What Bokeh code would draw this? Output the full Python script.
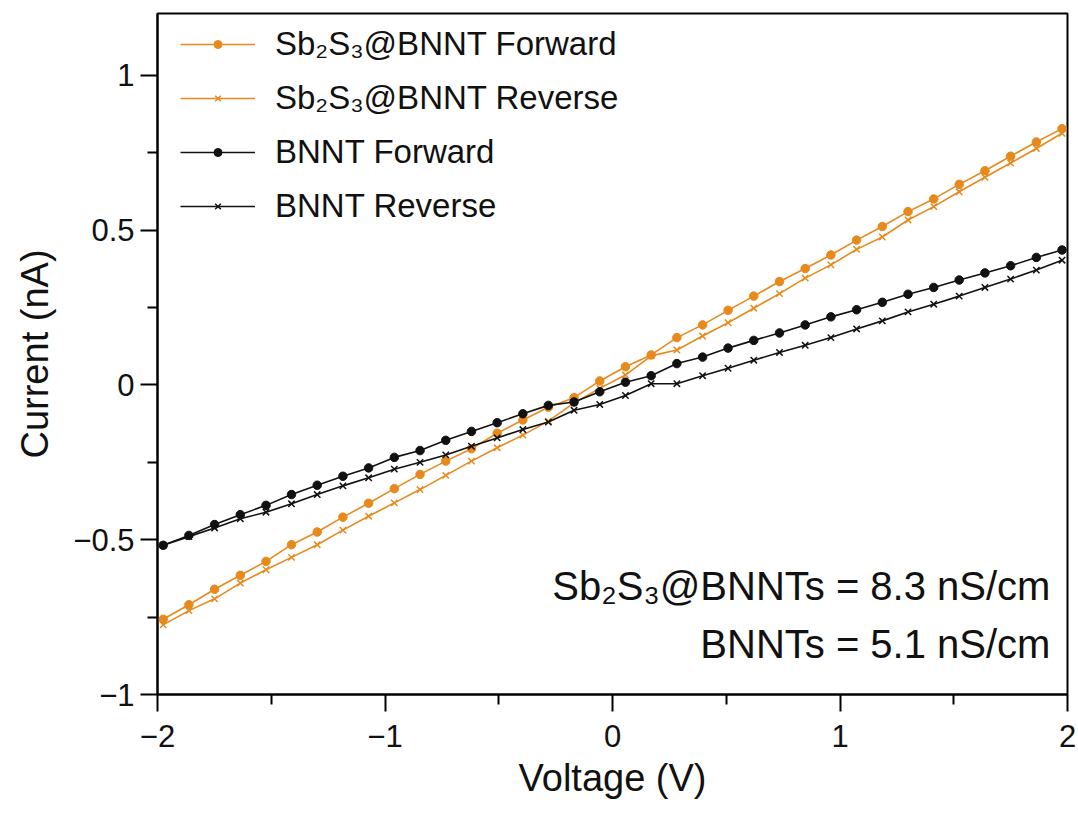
from bokeh.plotting import figure
from bokeh.models import ColumnDataSource, Legend, LegendItem, FixedTicker, Label
from bokeh.embed import file_html
from bokeh.resources import INLINE

# ---------------- data ----------------
voltage = [-1.975, -1.862, -1.749, -1.636, -1.523, -1.411, -1.298, -1.185, -1.072, -0.959,
           -0.846, -0.733, -0.620, -0.507, -0.394, -0.282, -0.169, -0.056, 0.057, 0.170,
           0.283, 0.396, 0.508, 0.621, 0.734, 0.847, 0.960, 1.073, 1.186, 1.299,
           1.412, 1.524, 1.637, 1.750, 1.863, 1.976]

sb_forward = [-0.757, -0.710, -0.660, -0.615, -0.570, -0.516, -0.475, -0.427, -0.382, -0.335,
              -0.289, -0.246, -0.206, -0.156, -0.113, -0.072, -0.041, 0.013, 0.059, 0.097,
              0.153, 0.194, 0.241, 0.287, 0.334, 0.376, 0.420, 0.468, 0.512, 0.560,
              0.601, 0.648, 0.692, 0.739, 0.785, 0.828]

sb_reverse = [-0.775, -0.729, -0.691, -0.640, -0.597, -0.557, -0.516, -0.469, -0.424, -0.381,
              -0.338, -0.292, -0.246, -0.203, -0.162, -0.117, -0.058, -0.011, 0.032, 0.094,
              0.113, 0.158, 0.201, 0.248, 0.295, 0.345, 0.388, 0.438, 0.478, 0.533,
              0.576, 0.624, 0.671, 0.717, 0.764, 0.813]

bn_forward = [-0.518, -0.486, -0.451, -0.419, -0.389, -0.354, -0.324, -0.295, -0.268, -0.234,
              -0.212, -0.179, -0.150, -0.122, -0.093, -0.066, -0.055, -0.022, 0.009, 0.030,
              0.069, 0.090, 0.119, 0.144, 0.168, 0.194, 0.220, 0.243, 0.267, 0.293,
              0.315, 0.339, 0.362, 0.385, 0.412, 0.436]

bn_reverse = [-0.518, -0.490, -0.462, -0.432, -0.411, -0.384, -0.354, -0.326, -0.300, -0.272,
              -0.250, -0.226, -0.198, -0.171, -0.144, -0.120, -0.082, -0.063, -0.034, 0.004,
              0.004, 0.030, 0.054, 0.080, 0.105, 0.128, 0.153, 0.181, 0.207, 0.236,
              0.261, 0.287, 0.315, 0.342, 0.371, 0.403]

series_names = ["Sb\u2082S\u2083@BNNT Forward", "Sb\u2082S\u2083@BNNT Reverse",
                "BNNT Forward", "BNNT Reverse"]

x_ticks = [-2, -1, 0, 1, 2]
x_minor = [-1.5, -0.5, 0.5, 1.5]
y_ticks = [-1, -0.5, 0, 0.5, 1]
y_minor = [-0.75, -0.25, 0.25, 0.75]
y_tick_labels = {-1: "\u22121", -0.5: "\u22120.5", 0: "0", 0.5: "0.5", 1: "1"}
x_tick_labels = {-2: "\u22122", -1: "\u22121", 0: "0", 1: "1", 2: "2"}

annotations = ["Sb\u2082S\u2083@BNNTs = 8.3 nS/cm", "BNNTs = 5.1 nS/cm"]
annotation_y = [-0.650, -0.838]

# ---------------- style ----------------
ORANGE = "#E8891C"
BLACK = "#111111"
FONT = "Liberation Sans"

p = figure(width=1078, height=813, output_backend="svg", toolbar_location=None,
           x_range=(-2, 2), y_range=(-1, 1.2),
           min_border_left=157, min_border_right=11, min_border_top=13, min_border_bottom=119)
p.xgrid.visible = False
p.ygrid.visible = False
p.outline_line_color = "black"
p.outline_line_width = 2
p.background_fill_color = "white"
p.border_fill_color = "white"

for ax, ticks, minor, labels in ((p.xaxis[0], x_ticks, x_minor, x_tick_labels),
                                 (p.yaxis[0], y_ticks, y_minor, y_tick_labels)):
    ax.ticker = FixedTicker(ticks=ticks, minor_ticks=minor)
    ax.major_label_overrides = labels
    ax.axis_line_width = 2
    ax.axis_line_color = "black"
    ax.major_tick_line_width = 2
    ax.minor_tick_line_width = 2
    ax.major_tick_out = 17
    ax.major_tick_in = 0
    ax.minor_tick_out = 10
    ax.minor_tick_in = 0
    ax.major_label_text_font = FONT
    ax.major_label_text_font_size = "31px"
    ax.major_label_text_color = "#111111"
    ax.axis_label_text_font = FONT
    ax.axis_label_text_font_size = "38px"
    ax.axis_label_text_font_style = "normal"
    ax.axis_label_text_color = "#111111"

p.xaxis.axis_label = "Voltage (V)"
p.yaxis.axis_label = "Current (nA)"
p.xaxis.major_label_standoff = 13
p.yaxis.major_label_standoff = 6
p.xaxis.axis_label_standoff = 7
p.yaxis.axis_label_standoff = 14

src = ColumnDataSource(dict(v=voltage, sf=sb_forward, sr=sb_reverse, bf=bn_forward, br=bn_reverse))

items = []
specs = [("sf", ORANGE, "circle"), ("sr", ORANGE, "x"), ("bf", BLACK, "circle"), ("br", BLACK, "x")]
for (col, color, marker), name in zip(specs, series_names):
    ln = p.line("v", col, source=src, line_color=color, line_width=1.6)
    if marker == "circle":
        sc = p.scatter("v", col, source=src, marker="circle", size=8.5,
                       fill_color=color, line_color=color, line_width=1)
    else:
        sc = p.scatter("v", col, source=src, marker="x", size=9,
                       line_color=color, line_width=1.5)
    items.append(LegendItem(label=name, renderers=[ln, sc]))

legend = Legend(items=items, location=(23, 466), orientation="vertical",
                border_line_color=None, background_fill_alpha=0,
                label_text_font=FONT, label_text_font_size="33px", label_text_color="#111111",
                glyph_width=75, glyph_height=20, label_standoff=20,
                label_height=44, spacing=10, padding=0, margin=0)
p.add_layout(legend, "center")

for txt, yv in zip(annotations, annotation_y):
    p.add_layout(Label(x=1.925, y=yv, text=txt, text_align="right", text_baseline="alphabetic",
                       text_font=FONT, text_font_size="40px", text_color="#111111"))

open("out.html", "w").write(file_html(p, INLINE))
